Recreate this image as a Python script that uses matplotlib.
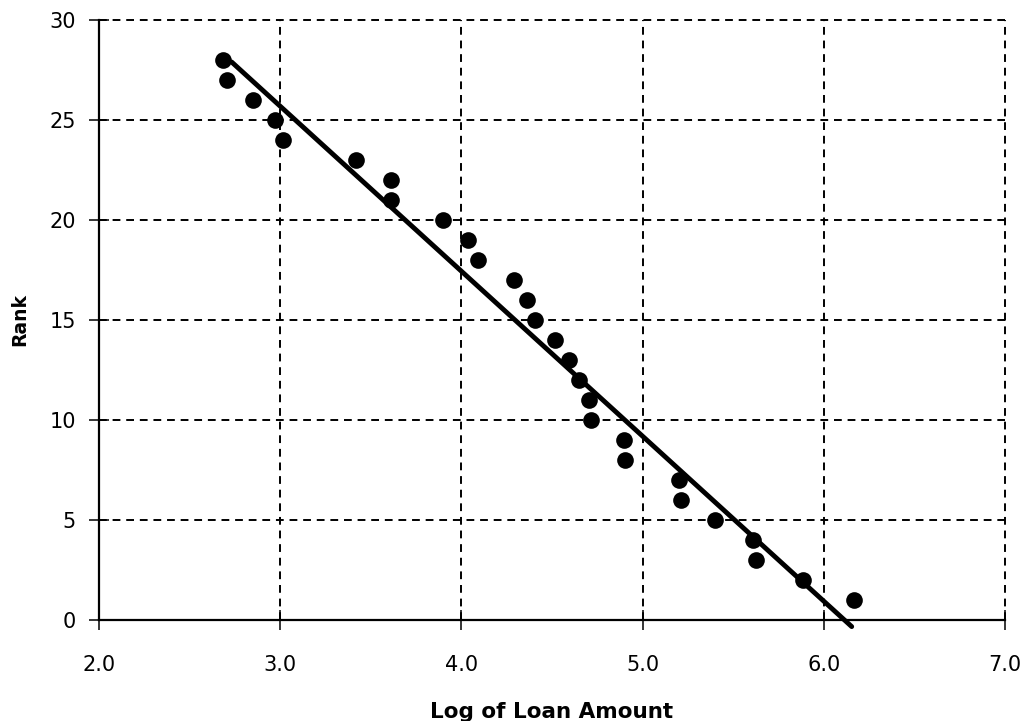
import matplotlib
matplotlib.use("Agg")
import matplotlib.pyplot as plt

# Data
log_loan = [2.683, 2.708, 2.848, 2.970, 3.014, 3.418, 3.609, 3.613, 3.896, 4.039,
            4.093, 4.290, 4.364, 4.406, 4.518, 4.592, 4.647, 4.702, 4.713, 4.897,
            4.905, 5.203, 5.210, 5.397, 5.607, 5.626, 5.887, 6.167]
rank = [28, 27, 26, 25, 24, 23, 22, 21, 20, 19,
        18, 17, 16, 15, 14, 13, 12, 11, 10, 9,
        8, 7, 6, 5, 4, 3, 2, 1]
trend_x = [2.732, 6.154]
trend_y = [27.9, -0.33]

xticks = [2, 3, 4, 5, 6, 7]
xticklabels = ["2.0", "3.0", "4.0", "5.0", "6.0", "7.0"]
yticks = [0, 5, 10, 15, 20, 25, 30]

plt.rcParams['font.family'] = ['DejaVu Sans']

fig = plt.figure(figsize=(10.32, 7.21), dpi=100)
ax = fig.add_axes([99/1032, 101/721, 906/1032, 600/721])

ax.set_xlim(2, 7)
ax.set_ylim(0, 30)

ax.scatter(log_loan, rank, s=12**2, color='black', zorder=3, linewidths=0)
ax.plot(trend_x, trend_y, color='black', lw=3.5, solid_capstyle='round',
        clip_on=False, zorder=4)

ax.set_xticks(xticks)
ax.set_xticklabels(xticklabels)
ax.set_yticks(yticks)

ax.grid(True, color='black', linestyle=(0, (4, 3)), linewidth=1.4)
for gl in ax.get_xgridlines() + ax.get_ygridlines():
    gl.set_clip_on(False)
ax.set_axisbelow(True)

for s in ['top', 'right']:
    ax.spines[s].set_visible(False)
for s in ['left', 'bottom']:
    ax.spines[s].set_linewidth(1.6)
    ax.spines[s].set_zorder(5)

ax.tick_params(axis='both', direction='inout', length=15, width=1.1,
               labelsize=15, color='black')
ax.tick_params(axis='y', pad=9)
ax.tick_params(axis='x', pad=18)

ax.set_xlabel("Log of Loan Amount", fontsize=15.5, fontweight='bold', labelpad=19)
ax.set_ylabel("Rank", fontsize=13.5, fontweight='bold', labelpad=15)

fig.savefig("out.png", dpi=100)
